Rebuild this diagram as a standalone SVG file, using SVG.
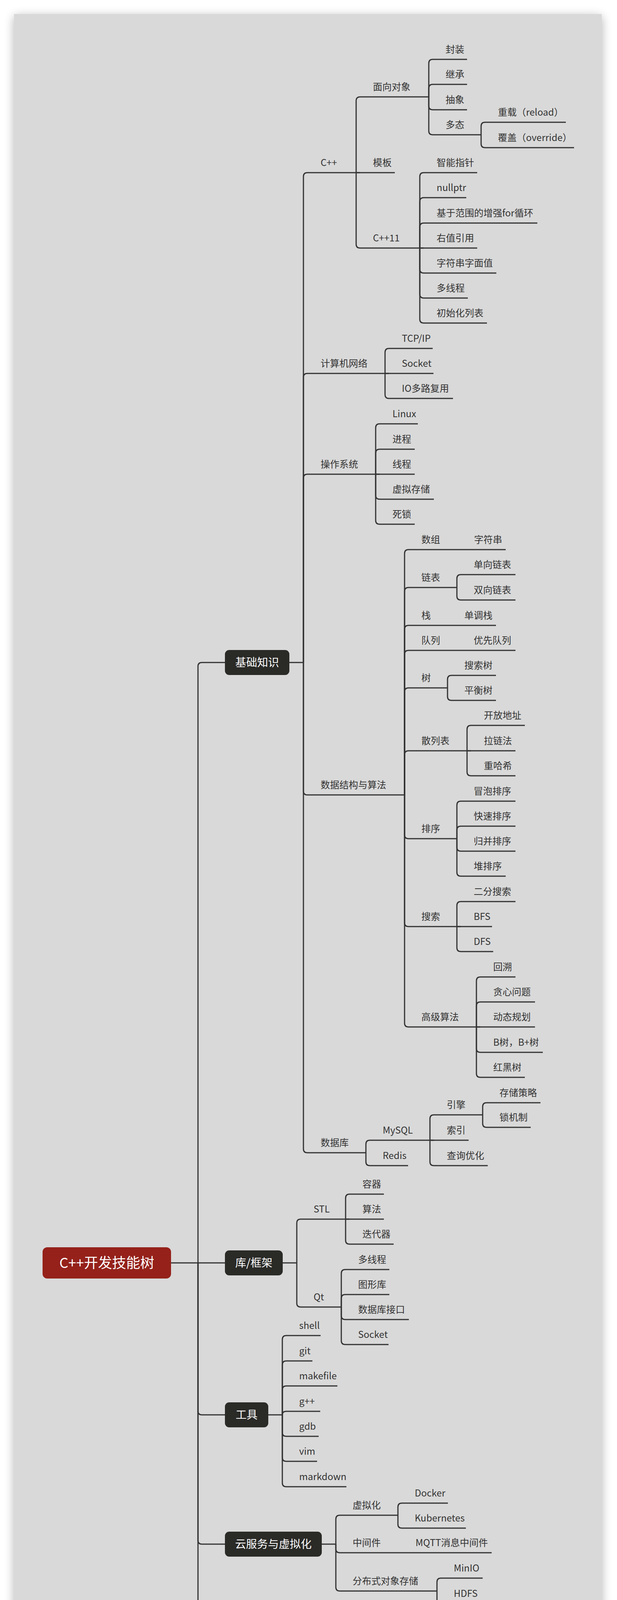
<svg xmlns="http://www.w3.org/2000/svg" width="1580" height="5062" viewBox="0 0 1580 5062">
<defs>
<style>
.t{font-family:"Noto Sans CJK SC","Noto Sans",sans-serif;font-size:24px;fill:#333333}
.ul{stroke:#333333;stroke-width:3;fill:none}
#connectors path{stroke:#333333;stroke-width:3;fill:none}
.box{fill:#2a2a27}
.bt{font-family:"Noto Sans CJK SC","Noto Sans",sans-serif;font-size:28px;fill:#ffffff;text-anchor:middle}
.rt{font-family:"Noto Sans CJK SC","Noto Sans",sans-serif;font-size:36px;fill:#ffffff;text-anchor:middle}
</style>
<filter id="sh" x="-5%" y="-2%" width="110%" height="104%">
<feGaussianBlur in="SourceAlpha" stdDeviation="13"/>
<feOffset dy="6"/>
<feComponentTransfer><feFuncA type="linear" slope="0.3"/></feComponentTransfer>
<feMerge><feMergeNode/><feMergeNode in="SourceGraphic"/></feMerge>
</filter>
<clipPath id="panelclip"><rect x="36" y="36" width="1505" height="4991"/></clipPath>
</defs>
<rect x="0" y="0" width="1580" height="5062" fill="#ffffff"/>
<rect x="36" y="36" width="1505" height="4991" fill="#d9d9d9" filter="url(#sh)"/>
<g clip-path="url(#panelclip)">
<g id="connectors">
<path d="M438,3233 H507"/>
<path d="M507,3233 V1706 Q507,1696 517,1696 H576"/>
<path d="M507,3233 H576"/>
<path d="M507,3233 V3612 Q507,3622 517,3622 H576"/>
<path d="M507,3233 V3943 Q507,3953 517,3953 H576"/>
<path d="M507,3233 V4725 Q507,4735 517,4735 H576"/>
<path d="M741,1696 H777"/>
<path d="M724,3233 H760"/>
<path d="M687,3622 H723"/>
<path d="M824,3953 H860"/>
<path d="M686,4735 H722"/>
<!-- 基础知识 -->
<path d="M777,1696 V452 Q777,442 787,442"/>
<path d="M777,1696 V966 Q777,956 787,956"/>
<path d="M777,1696 V1224 Q777,1214 787,1214"/>
<path d="M777,1696 V2025 Q777,2035 787,2035"/>
<path d="M777,1696 V2941 Q777,2951 787,2951"/>
<!-- C++ -->
<path d="M912,442 V258 Q912,248 922,248"/>
<path d="M912,442 H922"/>
<path d="M912,442 V625 Q912,635 922,635"/>
<!-- 面向对象 -->
<path d="M1098,248 V162 Q1098,152 1108,152"/>
<path d="M1098,248 V226 Q1098,216 1108,216"/>
<path d="M1098,248 V271 Q1098,281 1108,281"/>
<path d="M1098,248 V335 Q1098,345 1108,345"/>
<!-- 多态 -->
<path d="M1232,345 V323 Q1232,313 1242,313"/>
<path d="M1232,345 V368 Q1232,378 1242,378"/>
<!-- C++11 -->
<path d="M1075,635 V452 Q1075,442 1085,442"/>
<path d="M1075,635 V516 Q1075,506 1085,506"/>
<path d="M1075,635 V581 Q1075,571 1085,571"/>
<path d="M1075,635 H1085"/>
<path d="M1075,635 V689 Q1075,699 1085,699"/>
<path d="M1075,635 V753 Q1075,763 1085,763"/>
<path d="M1075,635 V817 Q1075,827 1085,827"/>
<!-- 计算机网络 -->
<path d="M986,956 V902 Q986,892 996,892"/>
<path d="M986,956 H996"/>
<path d="M986,956 V1010 Q986,1020 996,1020"/>
<!-- 操作系统 -->
<path d="M962,1214 V1095 Q962,1085 972,1085"/>
<path d="M962,1214 V1160 Q962,1150 972,1150"/>
<path d="M962,1214 H972"/>
<path d="M962,1214 V1268 Q962,1278 972,1278"/>
<path d="M962,1214 V1332 Q962,1342 972,1342"/>
<!-- 数据结构与算法 -->
<path d="M1036,2035 V1417 Q1036,1407 1046,1407"/>
<path d="M1036,2035 V1514 Q1036,1504 1046,1504"/>
<path d="M1036,2035 V1611 Q1036,1601 1046,1601"/>
<path d="M1036,2035 V1675 Q1036,1665 1046,1665"/>
<path d="M1036,2035 V1771 Q1036,1761 1046,1761"/>
<path d="M1036,2035 V1932 Q1036,1922 1046,1922"/>
<path d="M1036,2035 V2137 Q1036,2147 1046,2147"/>
<path d="M1036,2035 V2362 Q1036,2372 1046,2372"/>
<path d="M1036,2035 V2619 Q1036,2629 1046,2629"/>
<path d="M1170,1504 V1481 Q1170,1471 1180,1471"/>
<path d="M1170,1504 V1526 Q1170,1536 1180,1536"/>
<path d="M1146,1761 V1739 Q1146,1729 1156,1729"/>
<path d="M1146,1761 V1783 Q1146,1793 1156,1793"/>
<path d="M1196,1922 V1867 Q1196,1857 1206,1857"/>
<path d="M1196,1922 H1206"/>
<path d="M1196,1922 V1976 Q1196,1986 1206,1986"/>
<path d="M1170,2147 V2061 Q1170,2051 1180,2051"/>
<path d="M1170,2147 V2125 Q1170,2115 1180,2115"/>
<path d="M1170,2147 V2169 Q1170,2179 1180,2179"/>
<path d="M1170,2147 V2233 Q1170,2243 1180,2243"/>
<path d="M1170,2372 V2318 Q1170,2308 1180,2308"/>
<path d="M1170,2372 H1180"/>
<path d="M1170,2372 V2426 Q1170,2436 1180,2436"/>
<path d="M1220,2629 V2511 Q1220,2501 1230,2501"/>
<path d="M1220,2629 V2575 Q1220,2565 1230,2565"/>
<path d="M1220,2629 H1230"/>
<path d="M1220,2629 V2684 Q1220,2694 1230,2694"/>
<path d="M1220,2629 V2748 Q1220,2758 1230,2758"/>
<!-- 数据库 -->
<path d="M937,2951 V2929 Q937,2919 947,2919"/>
<path d="M937,2951 V2974 Q937,2984 947,2984"/>
<path d="M1101,2919 V2864 Q1101,2854 1111,2854"/>
<path d="M1101,2919 H1111"/>
<path d="M1101,2919 V2974 Q1101,2984 1111,2984"/>
<path d="M1236,2854 V2833 Q1236,2823 1246,2823"/>
<path d="M1236,2854 V2876 Q1236,2886 1246,2886"/>
<!-- 库/框架 -->
<path d="M760,3233 V3131 Q760,3121 770,3121"/>
<path d="M760,3233 V3336 Q760,3346 770,3346"/>
<path d="M885,3121 V3067 Q885,3057 895,3057"/>
<path d="M885,3121 H895"/>
<path d="M885,3121 V3175 Q885,3185 895,3185"/>
<path d="M874,3346 V3260 Q874,3250 884,3250"/>
<path d="M874,3346 V3324 Q874,3314 884,3314"/>
<path d="M874,3346 V3368 Q874,3378 884,3378"/>
<path d="M874,3346 V3432 Q874,3442 884,3442"/>
<!-- 工具 -->
<path d="M723,3622 V3429 Q723,3419 733,3419"/>
<path d="M723,3622 V3494 Q723,3484 733,3484"/>
<path d="M723,3622 V3558 Q723,3548 733,3548"/>
<path d="M723,3622 Q723,3613 733,3613"/>
<path d="M723,3622 V3667 Q723,3677 733,3677"/>
<path d="M723,3622 V3731 Q723,3741 733,3741"/>
<path d="M723,3622 V3796 Q723,3806 733,3806"/>
<!-- 云服务与虚拟化 -->
<path d="M860,3953 V3889 Q860,3879 870,3879"/>
<path d="M860,3953 V3965 Q860,3975 870,3975"/>
<path d="M860,3953 V4063 Q860,4073 870,4073"/>
<path d="M1019,3879 V3858 Q1019,3848 1029,3848"/>
<path d="M1019,3879 V3902 Q1019,3912 1029,3912"/>
<path d="M1119,4073 V4050 Q1119,4040 1129,4040"/>
<path d="M1119,4073 V4095 Q1119,4105 1129,4105"/>
<!-- 项目 -->
<path d="M722,4735 V4316 Q722,4306 732,4306"/>
<path d="M722,4735 V4607 Q722,4597 732,4597"/>
<path d="M722,4735 V4909 Q722,4919 732,4919"/>
<path d="M722,4735 V5062"/>
<path d="M908,4306 V4156 Q908,4146 918,4146"/>
<path d="M908,4306 V4220 Q908,4210 918,4210"/>
<path d="M908,4306 V4285 Q908,4275 918,4275"/>
<path d="M908,4306 V4329 Q908,4339 918,4339"/>
<path d="M908,4306 V4393 Q908,4403 918,4403"/>
<path d="M908,4306 V4457 Q908,4467 918,4467"/>
<path d="M908,4597 V4542 Q908,4532 918,4532"/>
<path d="M908,4597 H918"/>
<path d="M908,4597 V4651 Q908,4661 918,4661"/>
<path d="M906,4919 V4736 Q906,4726 916,4726"/>
<path d="M906,4919 V4800 Q906,4790 916,4790"/>
<path d="M906,4919 V4865 Q906,4855 916,4855"/>
<path d="M906,4919 H916"/>
<path d="M906,4919 V4974 Q906,4984 916,4984"/>
<path d="M906,4919 V5038 Q906,5048 916,5048"/>
</g>

<g id="root"><rect x="109" y="3193" width="329" height="80" rx="12" fill="#95211a"/><text class="rt" x="273.5" y="3246">C++开发技能树</text></g>

<g id="jichu"><rect class="box" x="576" y="1664" width="165" height="64" rx="11"/><text class="bt" x="658.5" y="1706">基础知识</text></g>
<g id="kukuangjia"><rect class="box" x="576" y="3201" width="148" height="64" rx="11"/><text class="bt" x="650" y="3243">库/框架</text></g>
<g id="gongju"><rect class="box" x="576" y="3590" width="111" height="64" rx="11"/><text class="bt" x="631.5" y="3632">工具</text></g>
<g id="yunfuwu"><rect class="box" x="576" y="3921" width="248" height="64" rx="11"/><text class="bt" x="700" y="3963">云服务与虚拟化</text></g>
<g id="xiangmu"><rect class="box" x="576" y="4703" width="110" height="64" rx="11"/><text class="bt" x="631" y="4745">项目</text></g>

<g id="n-cpp"><text class="t" x="821" y="425">C++</text><path class="ul" d="M787,442 H912"/></g>
<g id="n-oop"><text class="t" x="955" y="231">面向对象</text><path class="ul" d="M922,248 H1098"/></g>
<g id="n-fz"><text class="t" x="1141" y="135">封装</text><path class="ul" d="M1108,152 H1196"/></g>
<g id="n-jc"><text class="t" x="1141" y="199">继承</text><path class="ul" d="M1108,216 H1196"/></g>
<g id="n-cx"><text class="t" x="1141" y="264">抽象</text><path class="ul" d="M1108,281 H1196"/></g>
<g id="n-dt"><text class="t" x="1141" y="328">多态</text><path class="ul" d="M1108,345 H1232"/></g>
<g id="n-reload"><text class="t" x="1275" y="296">重载（reload）</text><path class="ul" d="M1242,313 H1449"/></g>
<g id="n-override"><text class="t" x="1275" y="361">覆盖（override）</text><path class="ul" d="M1242,378 H1470"/></g>
<g id="n-mb"><text class="t" x="955" y="425">模板</text><path class="ul" d="M912,442 H1011"/></g>
<g id="n-cpp11"><text class="t" x="955" y="618">C++11</text><path class="ul" d="M922,635 H1075"/></g>
<g id="n-znzz"><text class="t" x="1118" y="425">智能指针</text><path class="ul" d="M1085,442 H1222"/></g>
<g id="n-nullptr"><text class="t" x="1118" y="489">nullptr</text><path class="ul" d="M1085,506 H1194"/></g>
<g id="n-rangefor"><text class="t" x="1118" y="554">基于范围的增强for循环</text><path class="ul" d="M1085,571 H1376"/></g>
<g id="n-rvalue"><text class="t" x="1118" y="618">右值引用</text><path class="ul" d="M1075,635 H1222"/></g>
<g id="n-strlit"><text class="t" x="1118" y="682">字符串字面值</text><path class="ul" d="M1085,699 H1271"/></g>
<g id="n-thread11"><text class="t" x="1118" y="746">多线程</text><path class="ul" d="M1085,763 H1198"/></g>
<g id="n-initlist"><text class="t" x="1118" y="810">初始化列表</text><path class="ul" d="M1085,827 H1247"/></g>

<g id="n-net"><text class="t" x="821" y="939">计算机网络</text><path class="ul" d="M787,956 H986"/></g>
<g id="n-tcpip"><text class="t" x="1029" y="875">TCP/IP</text><path class="ul" d="M996,892 H1108"/></g>
<g id="n-socket1"><text class="t" x="1029" y="939">Socket</text><path class="ul" d="M986,956 H1110"/></g>
<g id="n-io"><text class="t" x="1029" y="1003">IO多路复用</text><path class="ul" d="M996,1020 H1160"/></g>

<g id="n-os"><text class="t" x="821" y="1197">操作系统</text><path class="ul" d="M787,1214 H962"/></g>
<g id="n-linux"><text class="t" x="1005" y="1068">Linux</text><path class="ul" d="M972,1085 H1070"/></g>
<g id="n-process"><text class="t" x="1005" y="1133">进程</text><path class="ul" d="M972,1150 H1062"/></g>
<g id="n-thread"><text class="t" x="1005" y="1197">线程</text><path class="ul" d="M962,1214 H1062"/></g>
<g id="n-vm"><text class="t" x="1005" y="1261">虚拟存储</text><path class="ul" d="M972,1278 H1111"/></g>
<g id="n-deadlock"><text class="t" x="1005" y="1325">死锁</text><path class="ul" d="M972,1342 H1062"/></g>

<g id="n-dsa"><text class="t" x="821" y="2018">数据结构与算法</text><path class="ul" d="M787,2035 H1036"/></g>
<g id="n-array"><text class="t" x="1079" y="1390">数组</text><path class="ul" d="M1046,1407 H1171"/></g>
<g id="n-string"><text class="t" x="1214" y="1390">字符串</text><path class="ul" d="M1171,1407 H1295"/></g>
<g id="n-list"><text class="t" x="1079" y="1487">链表</text><path class="ul" d="M1046,1504 H1170"/></g>
<g id="n-slist"><text class="t" x="1213" y="1454">单向链表</text><path class="ul" d="M1180,1471 H1320"/></g>
<g id="n-dlist"><text class="t" x="1213" y="1519">双向链表</text><path class="ul" d="M1180,1536 H1320"/></g>
<g id="n-stack"><text class="t" x="1079" y="1584">栈</text><path class="ul" d="M1046,1601 H1146"/></g>
<g id="n-mstack"><text class="t" x="1189" y="1584">单调栈</text><path class="ul" d="M1146,1601 H1270"/></g>
<g id="n-queue"><text class="t" x="1079" y="1648">队列</text><path class="ul" d="M1046,1665 H1170"/></g>
<g id="n-pqueue"><text class="t" x="1213" y="1648">优先队列</text><path class="ul" d="M1170,1665 H1320"/></g>
<g id="n-tree"><text class="t" x="1079" y="1744">树</text><path class="ul" d="M1046,1761 H1146"/></g>
<g id="n-bst"><text class="t" x="1189" y="1712">搜索树</text><path class="ul" d="M1156,1729 H1270"/></g>
<g id="n-avl"><text class="t" x="1189" y="1776">平衡树</text><path class="ul" d="M1156,1793 H1270"/></g>
<g id="n-hash"><text class="t" x="1079" y="1905">散列表</text><path class="ul" d="M1046,1922 H1196"/></g>
<g id="n-openaddr"><text class="t" x="1239" y="1840">开放地址</text><path class="ul" d="M1206,1857 H1344"/></g>
<g id="n-chain"><text class="t" x="1239" y="1905">拉链法</text><path class="ul" d="M1196,1922 H1320"/></g>
<g id="n-rehash"><text class="t" x="1239" y="1969">重哈希</text><path class="ul" d="M1206,1986 H1320"/></g>
<g id="n-sort"><text class="t" x="1079" y="2130">排序</text><path class="ul" d="M1046,2147 H1170"/></g>
<g id="n-bubble"><text class="t" x="1213" y="2034">冒泡排序</text><path class="ul" d="M1180,2051 H1320"/></g>
<g id="n-quick"><text class="t" x="1213" y="2098">快速排序</text><path class="ul" d="M1180,2115 H1320"/></g>
<g id="n-merge"><text class="t" x="1213" y="2162">归并排序</text><path class="ul" d="M1180,2179 H1320"/></g>
<g id="n-heap"><text class="t" x="1213" y="2226">堆排序</text><path class="ul" d="M1180,2243 H1295"/></g>
<g id="n-search"><text class="t" x="1079" y="2355">搜索</text><path class="ul" d="M1046,2372 H1170"/></g>
<g id="n-binary"><text class="t" x="1213" y="2291">二分搜索</text><path class="ul" d="M1180,2308 H1320"/></g>
<g id="n-bfs"><text class="t" x="1213" y="2355">BFS</text><path class="ul" d="M1170,2372 H1260"/></g>
<g id="n-dfs"><text class="t" x="1213" y="2419">DFS</text><path class="ul" d="M1180,2436 H1263"/></g>
<g id="n-adv"><text class="t" x="1079" y="2612">高级算法</text><path class="ul" d="M1046,2629 H1220"/></g>
<g id="n-backtrack"><text class="t" x="1263" y="2484">回溯</text><path class="ul" d="M1230,2501 H1320"/></g>
<g id="n-greedy"><text class="t" x="1263" y="2548">贪心问题</text><path class="ul" d="M1230,2565 H1370"/></g>
<g id="n-dp"><text class="t" x="1263" y="2612">动态规划</text><path class="ul" d="M1220,2629 H1370"/></g>
<g id="n-btree"><text class="t" x="1263" y="2677">B树，B+树</text><path class="ul" d="M1230,2694 H1390"/></g>
<g id="n-rbtree"><text class="t" x="1263" y="2741">红黑树</text><path class="ul" d="M1230,2758 H1344"/></g>

<g id="n-db"><text class="t" x="821" y="2934">数据库</text><path class="ul" d="M787,2951 H937"/></g>
<g id="n-mysql"><text class="t" x="980" y="2902">MySQL</text><path class="ul" d="M947,2919 H1101"/></g>
<g id="n-engine"><text class="t" x="1144" y="2837">引擎</text><path class="ul" d="M1111,2854 H1236"/></g>
<g id="n-storage"><text class="t" x="1279" y="2806">存储策略</text><path class="ul" d="M1246,2823 H1384"/></g>
<g id="n-lock"><text class="t" x="1279" y="2869">锁机制</text><path class="ul" d="M1246,2886 H1359"/></g>
<g id="n-index"><text class="t" x="1144" y="2902">索引</text><path class="ul" d="M1101,2919 H1200"/></g>
<g id="n-query"><text class="t" x="1144" y="2967">查询优化</text><path class="ul" d="M1111,2984 H1249"/></g>
<g id="n-redis"><text class="t" x="980" y="2967">Redis</text><path class="ul" d="M947,2984 H1045"/></g>

<g id="n-stl"><text class="t" x="803" y="3104">STL</text><path class="ul" d="M770,3121 H885"/></g>
<g id="n-container"><text class="t" x="928" y="3040">容器</text><path class="ul" d="M895,3057 H983"/></g>
<g id="n-algo"><text class="t" x="928" y="3104">算法</text><path class="ul" d="M885,3121 H983"/></g>
<g id="n-iter"><text class="t" x="928" y="3168">迭代器</text><path class="ul" d="M895,3185 H1008"/></g>
<g id="n-qt"><text class="t" x="803" y="3329">Qt</text><path class="ul" d="M770,3346 H874"/></g>
<g id="n-qthread"><text class="t" x="917" y="3233">多线程</text><path class="ul" d="M884,3250 H997"/></g>
<g id="n-gfx"><text class="t" x="917" y="3297">图形库</text><path class="ul" d="M884,3314 H997"/></g>
<g id="n-dbapi"><text class="t" x="917" y="3361">数据库接口</text><path class="ul" d="M884,3378 H1047"/></g>
<g id="n-qsocket"><text class="t" x="917" y="3425">Socket</text><path class="ul" d="M884,3442 H995"/></g>

<g id="n-shell"><text class="t" x="766" y="3402">shell</text><path class="ul" d="M733,3419 H821"/></g>
<g id="n-git"><text class="t" x="766" y="3467">git</text><path class="ul" d="M733,3484 H800"/></g>
<g id="n-makefile"><text class="t" x="766" y="3531">makefile</text><path class="ul" d="M733,3548 H864"/></g>
<g id="n-gpp"><text class="t" x="766" y="3596">g++</text><path class="ul" d="M733,3613 H820"/></g>
<g id="n-gdb"><text class="t" x="766" y="3660">gdb</text><path class="ul" d="M733,3677 H816"/></g>
<g id="n-vim"><text class="t" x="766" y="3724">vim</text><path class="ul" d="M733,3741 H812"/></g>
<g id="n-markdown"><text class="t" x="766" y="3789">markdown</text><path class="ul" d="M733,3806 H887"/></g>

<g id="n-virt"><text class="t" x="903" y="3862">虚拟化</text><path class="ul" d="M870,3879 H1019"/></g>
<g id="n-docker"><text class="t" x="1062" y="3831">Docker</text><path class="ul" d="M1029,3848 H1147"/></g>
<g id="n-k8s"><text class="t" x="1062" y="3895">Kubernetes</text><path class="ul" d="M1029,3912 H1193"/></g>
<g id="n-middleware"><text class="t" x="903" y="3958">中间件</text><path class="ul" d="M870,3975 H1021"/></g>
<g id="n-mqtt"><text class="t" x="1064" y="3958">MQTT消息中间件</text><path class="ul" d="M1021,3975 H1259"/></g>
<g id="n-oss"><text class="t" x="903" y="4056">分布式对象存储</text><path class="ul" d="M870,4073 H1119"/></g>
<g id="n-minio"><text class="t" x="1162" y="4023">MinIO</text><path class="ul" d="M1129,4040 H1236"/></g>
<g id="n-hdfs"><text class="t" x="1162" y="4088">HDFS</text><path class="ul" d="M1129,4105 H1229"/></g>

<g id="n-dp2"><text class="t" x="766" y="4289">设计模式</text><path class="ul" d="M732,4306 H908"/></g>
<g id="n-singleton"><text class="t" x="950" y="4129">单例模式</text><path class="ul" d="M918,4146 H1056"/></g>
<g id="n-factory"><text class="t" x="950" y="4193">工厂方法模式</text><path class="ul" d="M918,4210 H1104"/></g>
<g id="n-absfactory"><text class="t" x="950" y="4258">抽象工厂模式</text><path class="ul" d="M918,4275 H1104"/></g>
<g id="n-observer"><text class="t" x="950" y="4322">观察者模式</text><path class="ul" d="M918,4339 H1080"/></g>
<g id="n-proxy"><text class="t" x="950" y="4386">代理模式</text><path class="ul" d="M918,4403 H1056"/></g>
<g id="n-decorator"><text class="t" x="950" y="4450">装饰模式</text><path class="ul" d="M918,4467 H1056"/></g>
<g id="n-test"><text class="t" x="766" y="4580">软件测试</text><path class="ul" d="M732,4597 H908"/></g>
<g id="n-vs"><text class="t" x="950" y="4515">VS调试</text><path class="ul" d="M918,4532 H1035"/></g>
<g id="n-gdbdebug"><text class="t" x="950" y="4580">GDB调试</text><path class="ul" d="M908,4597 H1054"/></g>
<g id="n-autotest"><text class="t" x="950" y="4644">自动化测试</text><path class="ul" d="M918,4661 H1080"/></g>
<g id="n-arch"><text class="t" x="766" y="4902">软件架构</text><path class="ul" d="M732,4919 H906"/></g>
<g id="n-layered"><text class="t" x="949" y="4709">分层架构</text><path class="ul" d="M916,4726 H1056"/></g>
<g id="n-event"><text class="t" x="949" y="4773">事件驱动架构</text><path class="ul" d="M916,4790 H1105"/></g>
<g id="n-micro"><text class="t" x="949" y="4838">微核架构</text><path class="ul" d="M916,4855 H1056"/></g>
<g id="n-cloud"><text class="t" x="949" y="4902">云架构</text><path class="ul" d="M906,4919 H1030"/></g>
<g id="n-mvc"><text class="t" x="949" y="4967">MVC</text><path class="ul" d="M916,4984 H1008"/></g>
<g id="n-cs"><text class="t" x="949" y="5031">Client/Server</text><path class="ul" d="M916,5048 H1110"/></g>
</g>
</svg>
